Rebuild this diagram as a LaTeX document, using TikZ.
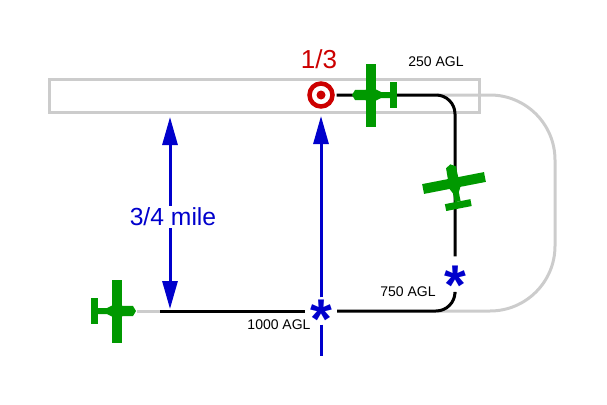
\documentclass[tikz,border=0pt]{standalone}
\usepackage{fontspec}
\setmainfont{Liberation Sans}
\usetikzlibrary{arrows.meta}

\definecolor{planegreen}{RGB}{0,153,0}
\definecolor{markblue}{RGB}{0,0,204}
\definecolor{markred}{RGB}{204,0,0}
\definecolor{stripgray}{RGB}{204,204,204}

\tikzset{
    strip/.style={draw=stripgray, line width=3pt},
    flightpath/.style={draw=black, line width=3pt, rounded corners=19pt},
    bluearrow/.style={draw=markblue, line width=3pt, -{Triangle[length=28pt,width=15pt]}},
    blueline/.style={draw=markblue, line width=3pt},
    starmark/.style={text=markblue, font=\bfseries\fontsize{56}{56}\selectfont, inner sep=0pt, text height=0pt, text depth=0pt},
    agl/.style={font=\fontsize{14}{16}\selectfont, inner sep=0pt},
    bigblue/.style={text=markblue, font=\fontsize{24.7}{28}\selectfont, inner sep=2pt},
    bullseye/.style={circle, draw=markred, fill=white, line width=4.5pt, minimum size=23pt, inner sep=0pt, outer sep=4pt},
    plane/.pic={
        \fill[planegreen] (-19,0) -- (-16,-5) -- (5,-5.5) -- (10,-3) -- (19,-3) -- (19,3) -- (10,3) -- (5,5.5) -- (-16,5) -- cycle;
        \fill[planegreen] (-5,-31.5) rectangle (5,31.5);
        \fill[planegreen] (19,-13) rectangle (26,13);
    }
}

\begin{document}
\begin{tikzpicture}[x=1pt, y=-1pt]
    \useasboundingbox (0,0) rectangle (607,404);

    % Runway and pattern
    \node [draw=stripgray, line width=3pt, minimum width=430pt, minimum height=33pt, inner sep=0pt] (runway) at (264,95.5) {};
    \coordinate (downwind) at (160,311);
    \coordinate (planeNose) at (137,311);
    \coordinate (farTop) at (437,95);
    \coordinate (farBottom) at (437,311);
    \coordinate (cornerTop) at (555,95);
    \coordinate (cornerBottom) at (555,311);
    \draw [strip, rounded corners=65pt] (farTop) -- (cornerTop) -- (cornerBottom) -- (farBottom);
    \draw [strip] (planeNose) -- (downwind);

    % Marks
    \node [bullseye] (target) at (321,95) {};
    \fill [markred] (target.center) circle (4.5);
    \node [starmark, minimum width=32pt, minimum height=27pt] (abeam) at (321,311) {\raisebox{-27pt}{*}};
    \node [starmark, minimum width=32pt, minimum height=37pt] (base) at (455,275) {\raisebox{-29pt}{*}};
    \coordinate (extended) at (321,356);
    \coordinate (gapTop) at (170,117);
    \coordinate (gapBottom) at (170,309);

    % Paths
    \path [flightpath] (target) -| (base);
    \path [flightpath] (base) |- (abeam);
    \path [flightpath] (abeam) -- (downwind);
    \path [bluearrow, shorten >=0pt] (abeam) -- (321,116);
    \path [blueline] (abeam) -- (extended);

    % Labels
    \node [bigblue] (mile) at (173,217) {3/4 mile};
    \path [bluearrow] (mile.north -| gapTop) -- (gapTop);
    \path [bluearrow] (mile.south -| gapBottom) -- (gapBottom);
    \node [text=markred, font=\fontsize{26}{28}\selectfont] (third) at (319,59) {1/3};
    \node [agl] (agl250) at (436,62) {250 AGL};
    \node [agl] (agl750) at (408,292) {750 AGL};
    \node [agl] (agl1000) at (279,325) {1000 AGL};

    % Planes
    \pic at (371,95) {plane};
    \pic [rotate=-79] at (454,183) {plane};
    \pic [rotate=180] at (117,311) {plane};
\end{tikzpicture}
\end{document}
